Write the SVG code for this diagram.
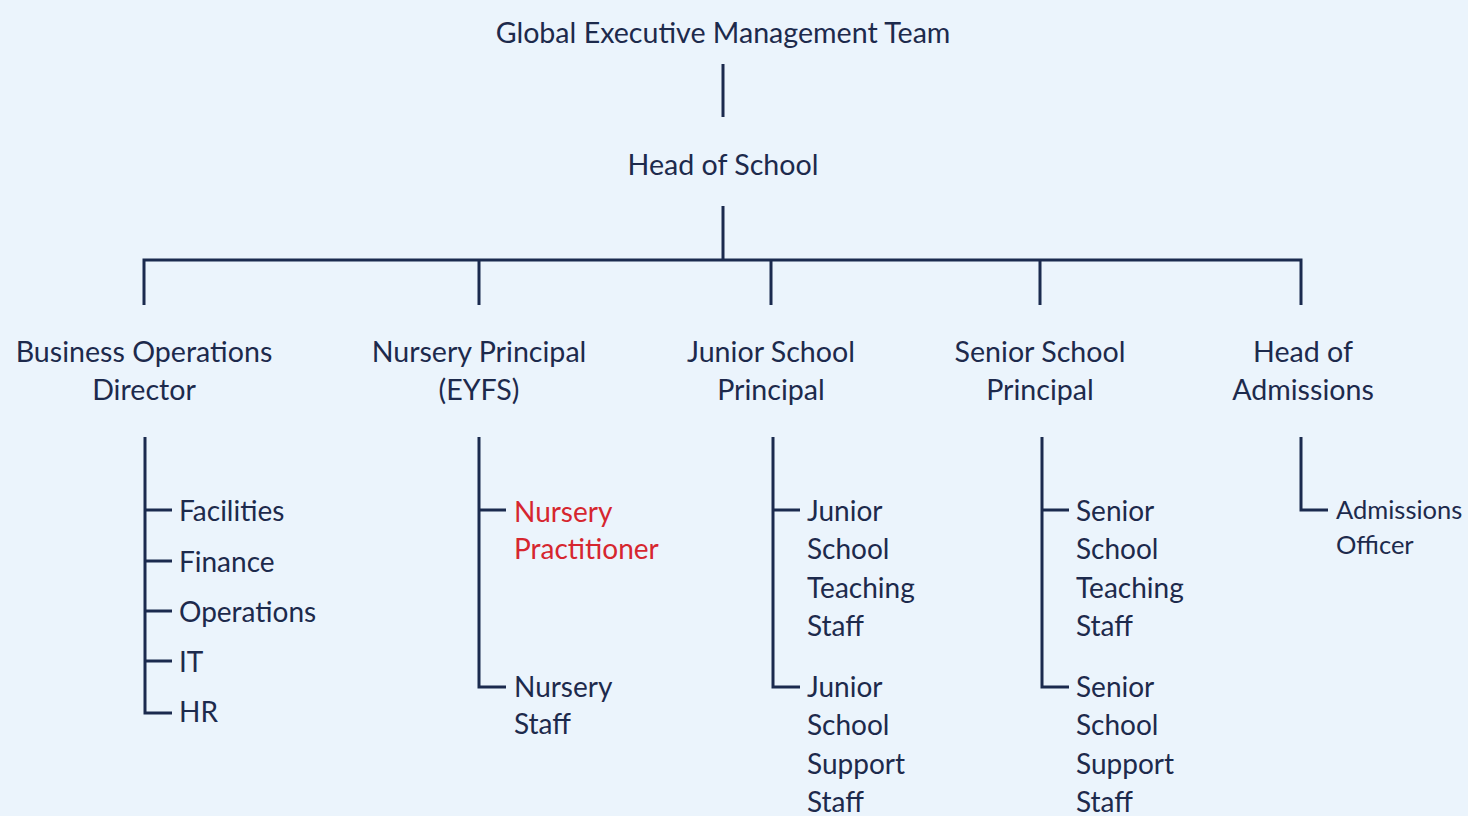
<svg xmlns="http://www.w3.org/2000/svg" width="1468" height="816" viewBox="0 0 1468 816">
<style>
text{font-family:Lato,"Noto Sans",sans-serif;fill:#1d2a4c}
.t1{font-size:28.6px;text-anchor:middle}
.t2{font-size:28.6px;text-anchor:middle}
.t3{font-size:28px}
.t4{font-size:25.5px}
.red{fill:#d6262f}
.ln{stroke:#1b2a4e;stroke-width:3;fill:none}
</style>
<rect width="1468" height="816" fill="#ebf4fc"/>
<g id="connectors" class="ln">
<path d="M723 64V117"/>
<path d="M723 206V260"/>
<path d="M144 305V260H1301V305"/>
<path d="M479 260V305M771 260V305M1040 260V305"/>
<path d="M145 437V713H172M145 510H172M145 561H172M145 611H172M145 661H172"/>
<path d="M479 437V687H506M479 510H506"/>
<path d="M773 437V687H800M773 510H800"/>
<path d="M1042 437V687H1069M1042 510H1069"/>
<path d="M1301 437V510H1328"/>
</g>
<g id="gemt"><text class="t1" x="723" y="43">Global Executive Management Team</text></g>
<g id="hos"><text class="t1" x="723" y="175">Head of School</text></g>
<g id="bod"><text class="t2" x="144" y="362">Business Operations</text><text class="t2" x="144" y="400">Director</text></g>
<g id="np"><text class="t2" x="479" y="362">Nursery Principal</text><text class="t2" x="479" y="400">(EYFS)</text></g>
<g id="jsp"><text class="t2" x="771" y="362">Junior School</text><text class="t2" x="771" y="400">Principal</text></g>
<g id="ssp"><text class="t2" x="1040" y="362">Senior School</text><text class="t2" x="1040" y="400">Principal</text></g>
<g id="hoa"><text class="t2" x="1303" y="362">Head of</text><text class="t2" x="1303" y="400">Admissions</text></g>
<g id="facilities"><text class="t3" x="179" y="521">Facilities</text></g>
<g id="finance"><text class="t3" x="179" y="572">Finance</text></g>
<g id="operations"><text class="t3" x="179" y="622">Operations</text></g>
<g id="it"><text class="t3" x="179" y="672">IT</text></g>
<g id="hr"><text class="t3" x="179" y="722">HR</text></g>
<g id="nprac"><text class="t3 red" x="514" y="522">Nursery</text><text class="t3 red" x="514" y="559">Practitioner</text></g>
<g id="nstaff"><text class="t3" x="514" y="697">Nursery</text><text class="t3" x="514" y="734">Staff</text></g>
<g id="jst"><text class="t3" x="807" y="521">Junior</text><text class="t3" x="807" y="559">School</text><text class="t3" x="807" y="598">Teaching</text><text class="t3" x="807" y="636">Staff</text></g>
<g id="jss"><text class="t3" x="807" y="697">Junior</text><text class="t3" x="807" y="735">School</text><text class="t3" x="807" y="774">Support</text><text class="t3" x="807" y="812">Staff</text></g>
<g id="sst"><text class="t3" x="1076" y="521">Senior</text><text class="t3" x="1076" y="559">School</text><text class="t3" x="1076" y="598">Teaching</text><text class="t3" x="1076" y="636">Staff</text></g>
<g id="sss"><text class="t3" x="1076" y="697">Senior</text><text class="t3" x="1076" y="735">School</text><text class="t3" x="1076" y="774">Support</text><text class="t3" x="1076" y="812">Staff</text></g>
<g id="ao"><text class="t4" x="1336" y="519">Admissions</text><text class="t4" x="1336" y="554">Officer</text></g>
</svg>
